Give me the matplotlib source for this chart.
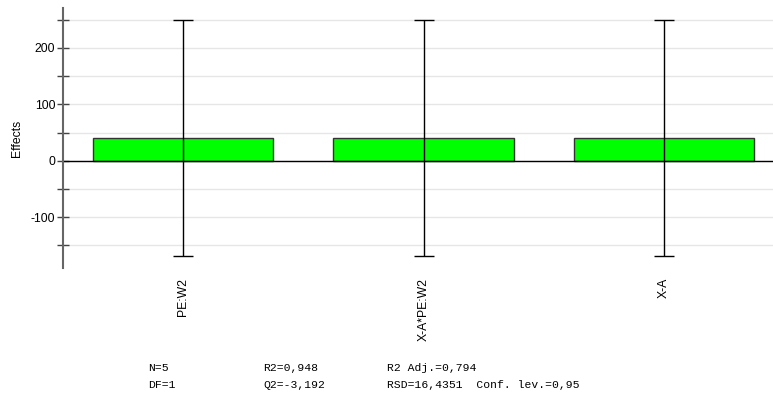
import matplotlib.pyplot as plt
from matplotlib.ticker import MultipleLocator

# coefficient plot data
terms = ["PE:W2", "X-A*PE:W2", "X-A"]
effects = [40.3, 40.3, 40.3]
conf_int = [210.0, 210.0, 210.0]

stats_rows = [
    ["N=5", "R2=0,948", "R2 Adj.=0,794"],
    ["DF=1", "Q2=-3,192", "RSD=16,4351  Conf. lev.=0,95"],
]

bar_color = "#00ff00"
grid_color = "#e6e6e6"

plt.rcParams["font.family"] = ["Liberation Sans", "DejaVu Sans"]
plt.rcParams["axes.unicode_minus"] = False

fig = plt.figure(figsize=(7.73, 4.13), dpi=100)
ax = fig.add_axes([63 / 773, 1 - 268 / 413, 1 - 63 / 773, 260 / 413])

x = list(range(len(terms)))
ax.bar(x, effects, width=0.75, color=bar_color, edgecolor="#333333",
       linewidth=1, zorder=2)
ax.errorbar(x, effects, yerr=conf_int, fmt="none", ecolor="black",
            elinewidth=1, capsize=7.5, capthick=1, zorder=3)
ax.axhline(0, color="black", linewidth=1, zorder=2.5)

ax.set_xlim(-0.5, 2.454)
ax.set_ylim(-190.5, 271)
ax.yaxis.set_major_locator(MultipleLocator(100))
ax.yaxis.set_minor_locator(MultipleLocator(50))
ax.grid(True, which="both", axis="y", color=grid_color, linewidth=1, zorder=0)
ax.set_axisbelow(True)

ax.set_xticks(x)
ax.set_xticklabels(terms, rotation=90, fontsize=8.8, va="top")
ax.tick_params(axis="x", length=0, pad=7)
ax.tick_params(axis="y", which="both", direction="inout", length=9,
               width=1, color="#444444", labelsize=8.8, pad=1)

for side in ["top", "right", "bottom"]:
    ax.spines[side].set_visible(False)
ax.spines["left"].set_color("#666666")
ax.spines["left"].set_linewidth(1.5)

ax.set_ylabel("Effects", fontsize=8.8)
ax.yaxis.set_label_coords(-0.0563, 0.5)

col_x = [148, 263, 387]
row_y = [368, 385]
for r, row in enumerate(stats_rows):
    for c, txt in enumerate(row):
        fig.text(col_x[c] / 773, 1 - row_y[r] / 413, txt,
                 family="Liberation Mono", fontsize=8.2, va="center",
                 ha="left")

plt.savefig("out.png", dpi=100)
